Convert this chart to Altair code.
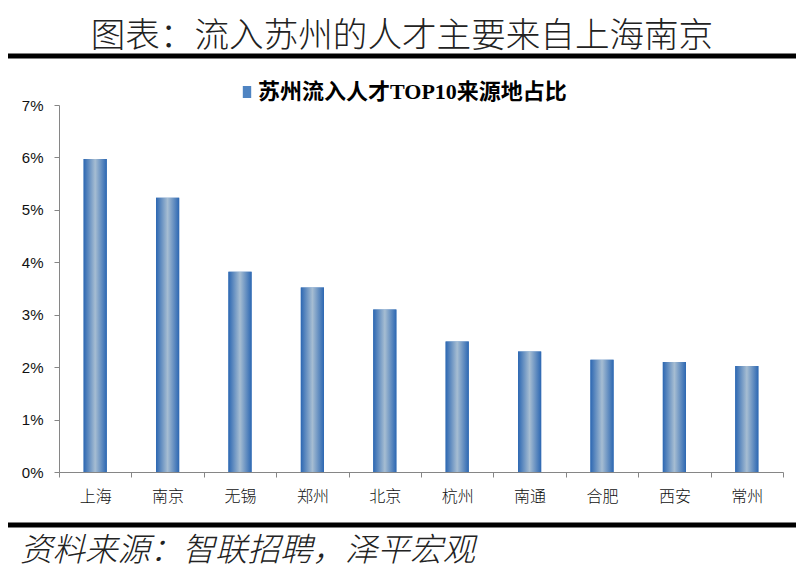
import altair as alt
import pandas as pd

TITLE = "图表：流入苏州的人才主要来自上海南京"
SOURCE = "资料来源：智联招聘，泽平宏观"
SERIES = "苏州流入人才TOP10来源地占比"

cities = ["上海", "南京", "无锡", "郑州", "北京", "杭州", "南通", "合肥", "西安", "常州"]
shares = [0.0597, 0.0523, 0.0382, 0.0352, 0.0310, 0.0249, 0.0230, 0.0214, 0.0210, 0.0202]
y_ticks = [0, 0.01, 0.02, 0.03, 0.04, 0.05, 0.06, 0.07]

df = pd.DataFrame({"city": cities, "share": shares, "series": [SERIES] * len(cities)})
one = pd.DataFrame({"t": [0]})

W, H = 724, 367
AXIS_GRAY = "#868686"

x = alt.X(
    "city:N", sort=cities, title=None,
    scale=alt.Scale(paddingInner=0, paddingOuter=0),
    axis=alt.Axis(labelAngle=0, tickBand="extent", tickSize=5,
                  domainColor=AXIS_GRAY, tickColor=AXIS_GRAY,
                  labelFont="Noto Sans CJK SC", labelFontSize=16,
                  labelFontWeight=300,
                  labelColor="#111", labelPadding=11),
)
y = alt.Y(
    "share:Q", title=None,
    scale=alt.Scale(domain=[0, 0.07], nice=False),
    axis=alt.Axis(values=y_ticks, format=".0%", grid=False, tickSize=5,
                  domainColor=AXIS_GRAY, tickColor=AXIS_GRAY,
                  labelFont="Liberation Sans", labelFontSize=15,
                  labelColor="#111", labelPadding=11),
)

base = alt.Chart(df)

legend_bars = base.mark_bar(width=alt.RelativeBandSize(0.32)).encode(
    x=x, y=y,
    color=alt.Color(
        "series:N",
        scale=alt.Scale(range=["#4f84c2"]),
        legend=alt.Legend(
            title=None, orient="none", legendX=177, legendY=-24,
            labelFont="Liberation Serif, Noto Sans CJK SC", labelFontSize=22,
            labelFontWeight="bold", labelColor="black",
            symbolType="M-0.7,-1H0.7V1H-0.7Z", symbolSize=144,
            symbolStrokeWidth=0, labelOffset=0, padding=0, labelLimit=600,
        ),
    ),
)

grad = alt.LinearGradient(
    gradient="linear", x1=0, x2=1, y1=0, y2=0,
    stops=[
        alt.GradientStop(offset=0, color="#2c67b2"),
        alt.GradientStop(offset=0.5, color="#a6bdd2"),
        alt.GradientStop(offset=1, color="#2c67b2"),
    ],
)
bars = base.mark_bar(width=alt.RelativeBandSize(0.32), color=grad).encode(x=x, y=y)

title = alt.Chart(one).mark_text(
    text=TITLE, font="Noto Sans CJK SC", fontSize=34.6, fontWeight=300,
    color="#222", align="center", baseline="middle",
).encode(x=alt.value(343), y=alt.value(-68))

rule_top = alt.Chart(one).mark_rule(color="black", strokeWidth=5).encode(
    x=alt.value(-51), x2=alt.value(737), y=alt.value(-49)
)
rule_bot = alt.Chart(one).mark_rule(color="black", strokeWidth=5).encode(
    x=alt.value(-51), x2=alt.value(737), y=alt.value(420)
)

source = alt.Chart(one).mark_text(
    text=SOURCE, font="Noto Sans CJK SC", fontSize=32.5, fontWeight=300,
    fontStyle="italic", color="#222", align="left", baseline="middle",
).encode(x=alt.value(-39), y=alt.value(446))

chart = alt.layer(title, rule_top, legend_bars, bars, rule_bot, source).properties(
    width=W, height=H,
    autosize=alt.AutoSizeParams(type="none"),
    padding={"left": 51, "top": 97, "right": 13, "bottom": 99},
).configure_view(stroke=None)

chart.save("out.html", embed_options={"renderer": "svg", "actions": False})
